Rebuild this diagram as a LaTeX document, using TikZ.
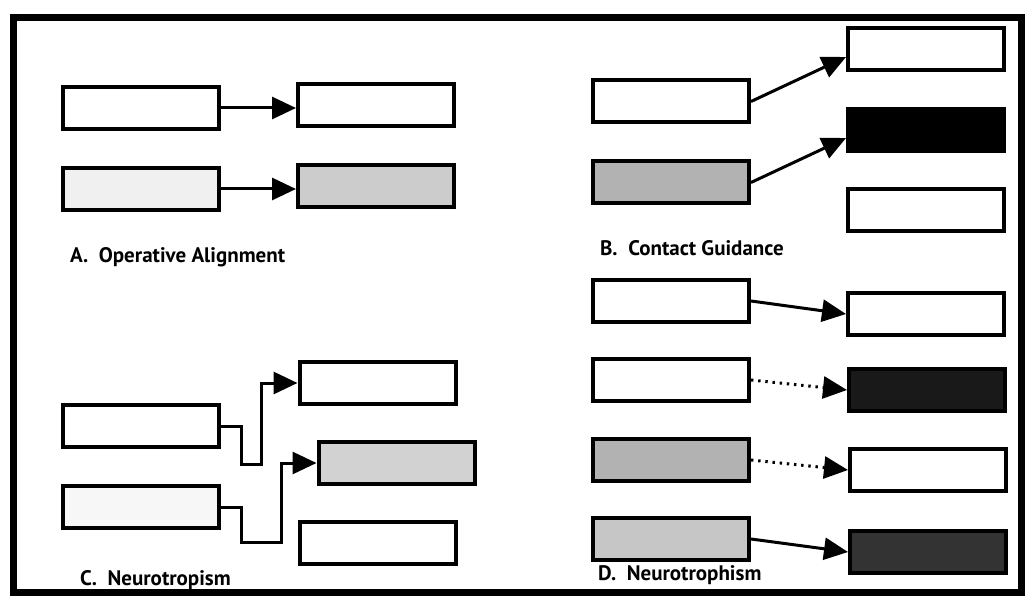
\documentclass[tikz,border=0pt]{standalone}
\usepackage{fontspec}
\setmainfont{PT Sans}
\usetikzlibrary{arrows.meta}

\tikzset{
  panel/.style={draw, line width=2pt, minimum width=78pt, minimum height=21pt, inner sep=0pt},
  flow/.style={line width=1.5pt, -{Triangle[length=12pt,width=11pt]}},
  faint/.style={dash pattern=on 1.2pt off 2.4pt},
  caption/.style={anchor=base west, font=\fontsize{10.5}{12}\selectfont\bfseries}
}

\begin{document}
\begin{tikzpicture}[x=0.5pt, y=-0.5pt]
        \useasboundingbox (0,0) rectangle (1027,604);
        \draw[line width=3.5pt] (13,18) rectangle (1021,592);
        % A
        \node[panel] (A1) at (140.5,108) {};
        \node[panel] (A2) at (376,105) {};
        \node[panel, fill=gray!12] (A3) at (141,189) {};
        \node[panel, fill=gray!40] (A4) at (376,186) {};
        \draw[flow] (A1.east) -- (A2.west |- A1.east);
        \draw[flow] (A3.east) -- (A4.west |- A3.east);
        \node[caption] (capA) at (63,263) {A.\ \ Operative Alignment};
        % B
        \node[panel] (B1) at (671,101.5) {};
        \node[panel, fill=gray!60] (B2) at (671,182.5) {};
        \node[panel] (B3) at (926,49) {};
        \node[panel, fill=black] (B4) at (926,130) {};
        \node[panel] (B5) at (926,210) {};
        \draw[flow] (B1.east) -- ([yshift=-4pt]B3.west);
        \draw[flow] (B2.east) -- ([yshift=-4pt]B4.west);
        \node[caption] (capB) at (593,256) {B.\ \ Contact Guidance};
        % C
        \node[panel] (C1) at (141,426) {};
        \node[panel, fill=gray!6] (C2) at (141,507) {};
        \node[panel] (C3) at (377.5,383) {};
        \node[panel, fill=gray!35] (C4) at (396.5,463) {};
        \node[panel] (C5) at (377.5,542.5) {};
        \draw[flow] (C1.east) -- ++(20,0) -- ++(0,38) -- ++(20,0) |- (C3.west);
        \draw[flow] (C2.east) -- ++(20,0) -- ++(0,35) -- ++(40,0) |- (C4.west);
        \node[caption] (capC) at (73,585) {C.\ \ Neurotropism};
        % D
        \node[panel] (D1) at (671,301) {};
        \node[panel] (D2) at (926,314) {};
        \node[panel] (D3) at (671,380) {};
        \node[panel, fill=black!90] (D4) at (927,390) {};
        \node[panel, fill=gray!60] (D5) at (671,460) {};
        \node[panel] (D6) at (928,470) {};
        \node[panel, fill=gray!45] (D7) at (671,539) {};
        \node[panel, fill=black!80] (D8) at (928,552) {};
        \draw[flow] (D1.east) -- (D2.west);
        \draw[flow, faint] (D3.east) -- (D4.west);
        \draw[flow, faint] (D5.east) -- (D6.west);
        \draw[flow] (D7.east) -- (D8.west);
        \node[caption] (capD) at (591,580) {D.\ \ Neurotrophism};
    \end{tikzpicture}
\end{document}
